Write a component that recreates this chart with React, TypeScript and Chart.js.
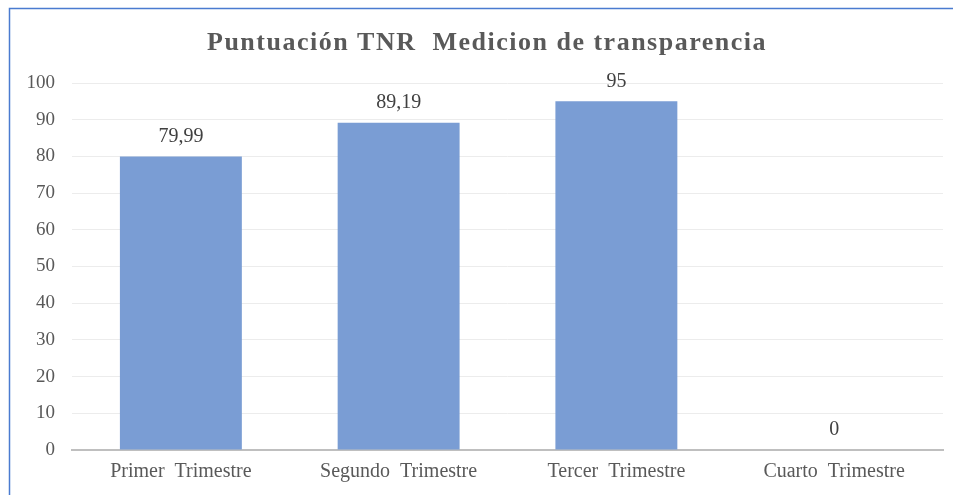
import React, { useEffect, useRef } from "react";
import { Chart, registerables } from "chart.js";

Chart.register(...registerables);

const categories = ["Primer  Trimestre", "Segundo  Trimestre", "Tercer  Trimestre", "Cuarto  Trimestre"];
const values = [79.99, 89.19, 95, 0];
const titleText = "Puntuación TNR  Medicion de transparencia";

const FONT = "'Liberation Serif', 'Times New Roman', serif";

const fmt = (v: number) => v.toString().replace(".", ",");

const decorPlugin = {
  id: "decor",
  beforeDraw(chart: any) {
    const ctx = chart.ctx;
    ctx.save();
    ctx.fillStyle = "#ffffff";
    ctx.fillRect(0, 0, chart.width, chart.height);
    ctx.strokeStyle = "#4a7bd0";
    ctx.lineWidth = 1.5;
    ctx.beginPath();
    ctx.moveTo(9.5, chart.height + 2);
    ctx.lineTo(9.5, 8.5);
    ctx.lineTo(chart.width + 2, 8.5);
    ctx.stroke();
    ctx.restore();
  },
  afterDraw(chart: any) {
    const ctx = chart.ctx;
    ctx.save();
    // title
    ctx.font = `bold 26px ${FONT}`;
    (ctx as any).letterSpacing = "0px";
    const w = ctx.measureText(titleText).width;
    const target = 560;
    const n = Array.from(titleText).length;
    const ls = Math.max(0, (target - w) / n);
    (ctx as any).letterSpacing = `${ls}px`;
    ctx.fillStyle = "#595959";
    ctx.textAlign = "left";
    ctx.textBaseline = "alphabetic";
    ctx.fillText(titleText, 207, 50);
    (ctx as any).letterSpacing = "0px";
    // data labels
    const meta = chart.getDatasetMeta(0);
    ctx.font = `20px ${FONT}`;
    ctx.fillStyle = "#404040";
    ctx.textAlign = "center";
    ctx.textBaseline = "middle";
    meta.data.forEach((bar: any, i: number) => {
      ctx.fillText(fmt(values[i]), bar.x, bar.y - 20);
    });
    ctx.restore();
  },
};

export default function App() {
  const ref = useRef<HTMLCanvasElement>(null);
  useEffect(() => {
    document.body.style.margin = "0";
    const chart = new Chart(ref.current!, {
      type: "bar",
      data: {
        labels: categories,
        datasets: [
          {
            data: values,
            backgroundColor: "#7a9dd4",
            categoryPercentage: 0.56,
            barPercentage: 1,
          },
        ],
      },
      options: {
        animation: false,
        responsive: false,
        layout: { padding: { left: 10, right: 10, top: 83, bottom: 0 } },
        plugins: { legend: { display: false }, tooltip: { enabled: false }, title: { display: false } },
        scales: {
          x: {
            grid: { display: false, drawTicks: false },
            border: { color: "#bfbfbf", width: 2 },
            ticks: { font: { family: FONT, size: 20 }, color: "#595959", padding: 10 },
            afterFit(scale: any) {
              scale.height = 45;
            },
          },
          y: {
            min: 0,
            max: 100,
            ticks: { stepSize: 10, font: { family: FONT, size: 19 }, color: "#595959", padding: 17 },
            grid: { color: "#ececec", drawTicks: false },
            border: { display: false },
            afterFit(scale: any) {
              scale.width = 62;
            },
          },
        },
      },
      plugins: [decorPlugin],
    });
    return () => chart.destroy();
  }, []);
  return <canvas ref={ref} width={953} height={495} style={{ display: "block" }} />;
}
